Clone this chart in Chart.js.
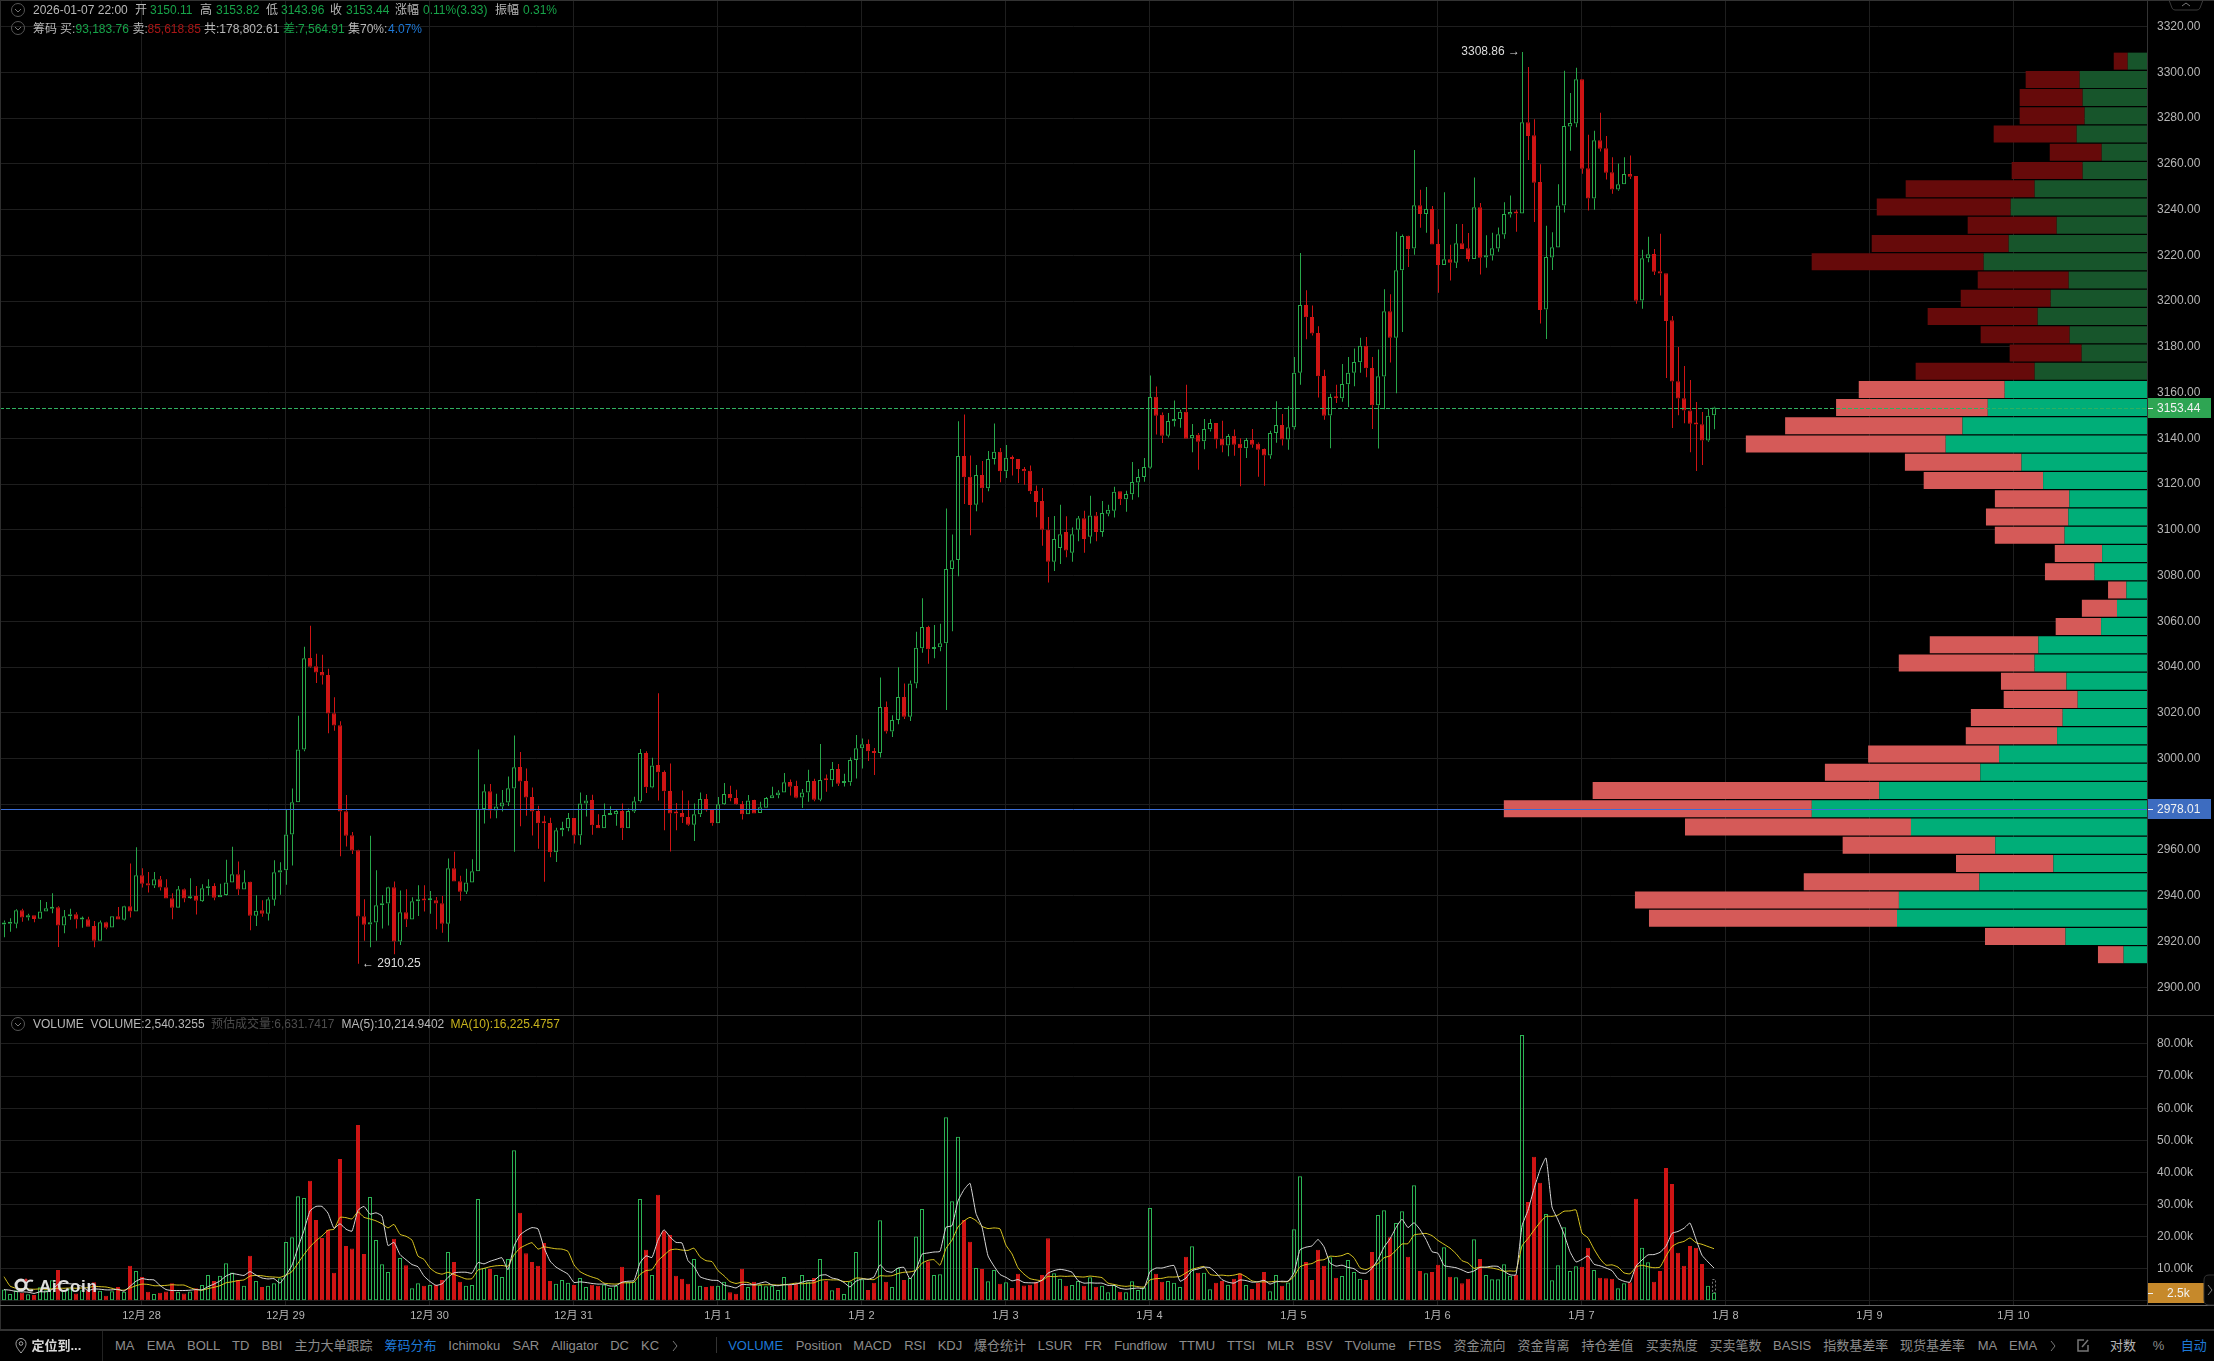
<!DOCTYPE html>
<html>
<head>
<meta charset="utf-8">
<title>ETH 1H</title>
<script src="https://cdn.jsdelivr.net/npm/chart.js@4"></script>
<style>
  html, body { margin: 0; padding: 0; background: #000; }
  body { width: 2214px; height: 1361px; position: relative; overflow: hidden; font-family: "Liberation Sans", "Noto Sans CJK SC", sans-serif; }
  canvas { position: absolute; left: 0; }
  #priceChart { top: 0; }
  #volumeChart { top: 1015px; }
  .t { position: absolute; white-space: nowrap; line-height: 16px; font-size: 12px; color: #b9b9b9; }
  .bar { font-size: 13px; color: #8c8c8c; }
  .line { position: absolute; }
  svg { position: absolute; }
</style>
</head>
<body>
<canvas id="priceChart" width="2214" height="1015"></canvas>
<canvas id="volumeChart" width="2214" height="315"></canvas>
<script>
// 1H candles, 12-27 01:00 up to 01-07 22:00
const opens = [
  2927.4,2927.8,2927.8,2933.7,2930.5,2931.5,2930.0,2933.1,2934.3,2935.0,
  2927.0,2931.1,2931.9,2929.6,2929.7,2926.8,2920.4,2928.4,2926.1,2931.1,
  2929.5,2935.4,2933.1,2949.0,2945.5,2944.5,2947.2,2943.7,2938.9,2934.8,
  2942.9,2938.9,2939.9,2937.6,2943.3,2944.3,2939.4,2940.4,2945.8,2949.4,
  2942.7,2946.1,2931.3,2933.7,2932.2,2938.3,2950.2,2951.2,2966.8,2980.9,
  3004.0,3043.9,3040.4,3037.8,3036.5,3019.8,3014.6,2977.0,2966.5,2959.9,
  2931.1,2927.4,2928.3,2935.9,2936.6,2943.7,2920.0,2932.8,2929.6,2937.6,
  2938.5,2938.1,2938.1,2936.7,2927.8,2952.0,2946.4,2941.8,2945.8,2950.7,
  2977.9,2985.7,2977.3,2979.0,2980.8,2986.9,2996.3,2990.2,2983.2,2977.1,
  2972.2,2971.8,2959.0,2968.6,2969.5,2974.0,2966.4,2980.4,2981.9,2970.9,
  2969.5,2975.3,2975.7,2977.1,2969.5,2976.9,2981.3,3002.4,2987.3,2997.2,
  2994.1,2985.8,2976.6,2976.2,2974.4,2971.1,2975.6,2982.3,2977.5,2971.7,
  2980.0,2984.5,2982.7,2980.1,2975.6,2981.9,2976.2,2978.5,2982.6,2983.9,
  2985.2,2989.7,2988.0,2983.0,2985.2,2990.2,2982.0,2991.1,2990.5,2995.4,
  2989.3,2989.6,2999.4,3004.5,3006.4,3003.3,3002.4,3022.5,3011.8,3016.9,
  3026.9,3018.3,3032.8,3048.2,3057.5,3047.9,3048.6,3050.4,3082.9,3086.8,
  3132.3,3123.2,3110.9,3124.0,3118.2,3131.0,3134.1,3125.6,3131.6,3131.0,
  3126.6,3125.8,3117.0,3112.6,3100.0,3086.0,3092.0,3099.0,3090.0,3100.0,
  3105.1,3097.0,3106.2,3099.0,3107.0,3108.3,3116.8,3113.3,3115.5,3120.7,
  3123.1,3127.1,3158.2,3150.3,3141.1,3147.4,3148.4,3151.6,3140.0,3141.6,
  3138.7,3143.9,3146.7,3139.8,3136.9,3141.1,3137.6,3135.6,3139.2,3137.6,
  3135.3,3132.5,3142.3,3145.8,3139.5,3144.8,3168.6,3198.3,3193.0,3186.0,
  3167.2,3150.0,3158.1,3157.5,3163.6,3168.6,3173.2,3180.4,3170.7,3154.4,
  3167.0,3195.5,3184.0,3213.5,3228.5,3223.0,3241.9,3238.1,3240.2,3224.9,
  3215.8,3218.3,3216.7,3225.3,3223.1,3218.4,3241.0,3219.0,3219.9,3223.0,
  3229.1,3237.8,3238.9,3238.3,3278.2,3272.5,3252.0,3196.3,3219.0,3223.4,
  3241.8,3276.3,3277.6,3297.0,3258.1,3244.8,3270.3,3266.8,3256.3,3248.8,
  3251.1,3255.5,3254.7,3200.2,3218.7,3220.6,3213.0,3212.2,3191.6,3164.9,
  3157.5,3152.2,3146.7,3146.1,3139.0,3150.11
];
const highs = [
  2929.2,2930.2,2934.1,2934.3,2932.1,2931.5,2938.2,2937.3,2941.1,2935.4,
  2933.8,2934.3,2932.8,2930.9,2930.8,2929.0,2929.2,2928.6,2931.1,2935.1,
  2935.6,2954.1,2961.2,2952.0,2950.4,2950.4,2948.7,2947.2,2941.1,2944.3,
  2943.2,2947.7,2944.3,2945.1,2947.2,2945.5,2945.3,2955.8,2961.4,2955.0,
  2951.2,2946.2,2940.2,2938.1,2939.4,2955.5,2954.7,2977.9,2986.9,3018.7,
  3048.9,3058.0,3045.8,3045.4,3039.2,3026.8,3016.3,2984.1,2967.9,2960.1,
  2938.5,2966.2,2951.2,2940.4,2944.0,2946.2,2942.3,2942.9,2939.4,2944.6,
  2944.6,2942.1,2939.5,2939.9,2956.3,2959.3,2948.8,2951.8,2956.0,3004.0,
  2988.8,2988.9,2984.6,2986.3,2992.1,3010.1,3002.9,2995.6,2987.3,2979.4,
  2975.0,2974.1,2969.8,2972.4,2976.2,2974.0,2985.2,2984.1,2984.2,2975.7,
  2980.3,2979.1,2977.6,2980.3,2978.2,2983.3,3004.2,3003.2,3000.4,3028.5,
  2994.8,2997.8,2980.6,2986.0,2981.7,2980.3,2985.2,2984.5,2977.6,2983.2,
  2989.3,2988.1,2986.4,2981.4,2984.1,2982.0,2981.1,2983.2,2987.7,2986.1,
  2993.7,2990.8,2990.3,2986.7,2995.1,2991.2,3006.4,2993.0,2998.5,2997.6,
  2993.4,3000.5,3010.3,3008.8,3008.3,3004.6,3035.4,3024.9,3018.9,3039.9,
  3032.8,3034.1,3055.4,3070.1,3058.1,3058.4,3058.9,3109.3,3097.9,3147.4,
  3150.4,3132.5,3128.3,3130.1,3134.4,3146.5,3135.8,3137.1,3132.5,3131.0,
  3127.5,3128.1,3119.4,3118.3,3105.6,3106.0,3111.0,3105.9,3101.0,3106.0,
  3108.3,3114.9,3107.8,3112.6,3111.0,3118.8,3116.8,3117.1,3129.6,3126.6,
  3131.4,3167.4,3162.6,3151.3,3151.1,3156.5,3152.5,3163.4,3146.2,3142.3,
  3148.4,3148.4,3146.7,3147.7,3141.9,3143.8,3140.0,3140.1,3144.1,3138.2,
  3135.5,3143.3,3156.2,3150.6,3154.0,3175.5,3221.0,3204.7,3198.0,3189.0,
  3170.0,3159.5,3163.4,3172.5,3175.5,3179.3,3183.9,3184.3,3175.5,3178.8,
  3205.2,3203.0,3230.3,3229.1,3228.6,3266.0,3248.6,3249.9,3241.6,3231.4,
  3247.6,3224.6,3233.7,3233.7,3229.7,3254.0,3242.9,3228.8,3229.8,3232.1,
  3243.2,3246.1,3239.9,3308.86,3302.3,3279.5,3259.8,3232.9,3230.1,3251.1,
  3300.7,3290.9,3302.0,3297.0,3272.7,3274.4,3282.3,3272.1,3262.9,3260.1,
  3262.9,3263.6,3254.7,3222.4,3228.1,3222.7,3229.4,3212.2,3193.5,3179.9,
  3171.6,3165.5,3155.9,3151.5,3153.0,3153.82
];
const lows = [
  2921.9,2924.3,2925.8,2928.6,2929.2,2928.4,2930.0,2933.1,2932.4,2917.6,
  2923.6,2929.5,2925.7,2926.0,2926.5,2917.5,2920.4,2925.4,2926.1,2929.6,
  2929.2,2930.5,2933.1,2943.6,2941.4,2943.4,2942.3,2938.8,2929.7,2934.8,
  2937.2,2938.6,2931.8,2937.3,2940.1,2938.1,2939.4,2940.1,2945.8,2940.4,
  2942.7,2924.9,2926.8,2930.8,2929.2,2935.6,2940.5,2944.8,2953.2,2980.9,
  3003.2,3039.7,3033.0,3032.4,3011.1,3012.1,2957.3,2961.5,2958.3,2910.25,
  2920.4,2917.5,2920.4,2925.7,2927.0,2914.4,2918.5,2926.4,2929.6,2931.2,
  2933.1,2932.2,2925.4,2923.9,2919.8,2946.2,2937.8,2940.8,2945.8,2950.7,
  2971.6,2973.8,2973.9,2976.8,2979.3,2959.3,2970.4,2975.0,2966.4,2960.6,
  2946.1,2956.9,2954.8,2966.0,2968.2,2962.9,2962.3,2974.7,2966.7,2969.5,
  2969.5,2975.3,2970.6,2964.4,2969.5,2976.2,2980.8,2984.9,2987.0,2981.7,
  2968.6,2959.4,2968.6,2971.8,2970.6,2963.9,2974.4,2976.8,2970.6,2971.7,
  2979.7,2981.3,2979.8,2973.4,2975.6,2976.0,2976.2,2978.5,2982.6,2982.6,
  2985.2,2983.8,2982.6,2978.4,2981.1,2981.3,2981.3,2985.5,2987.7,2988.0,
  2987.8,2988.1,2991.3,2995.7,2998.9,2992.8,3000.5,3010.9,3009.4,3015.0,
  3017.3,3016.4,3030.7,3046.2,3041.4,3043.8,3046.9,3021.2,3055.6,3079.7,
  3111.3,3097.6,3108.1,3111.9,3116.9,3128.5,3120.8,3122.6,3123.7,3120.5,
  3119.7,3115.6,3105.5,3093.0,3077.0,3082.0,3085.0,3088.0,3086.0,3095.0,
  3090.0,3094.0,3095.0,3097.0,3105.9,3105.4,3110.8,3107.9,3113.1,3114.2,
  3121.0,3126.7,3141.7,3137.9,3140.3,3145.1,3144.6,3139.8,3133.9,3126.3,
  3135.2,3143.0,3135.5,3133.9,3132.1,3132.4,3119.0,3131.4,3135.9,3123.2,
  3119.3,3131.1,3138.1,3136.8,3135.0,3143.8,3163.4,3183.3,3184.9,3157.8,
  3148.1,3135.6,3155.4,3156.0,3153.7,3162.7,3168.6,3166.7,3144.1,3135.5,
  3152.7,3173.1,3159.7,3186.5,3214.9,3220.2,3232.0,3229.8,3224.7,3203.6,
  3215.8,3209.0,3214.4,3222.8,3217.3,3218.4,3211.6,3214.6,3217.7,3221.5,
  3227.2,3236.5,3230.3,3238.3,3261.7,3234.6,3190.2,3183.4,3213.6,3223.4,
  3238.7,3265.7,3276.0,3255.6,3239.6,3239.9,3265.4,3253.1,3246.9,3248.2,
  3251.1,3253.3,3198.8,3196.6,3217.0,3211.4,3202.4,3166.4,3144.5,3150.1,
  3146.6,3133.9,3125.7,3128.3,3138.5,3143.96
];
const closes = [
  2928.3,2928.6,2933.7,2930.5,2931.5,2929.9,2933.1,2934.6,2934.8,2927.0,
  2931.1,2931.9,2929.6,2929.7,2926.5,2920.4,2928.4,2926.0,2931.1,2929.6,
  2935.4,2933.1,2949.0,2945.3,2944.5,2947.2,2943.6,2938.8,2934.8,2942.9,
  2938.8,2939.8,2937.8,2943.3,2944.2,2939.2,2940.5,2945.8,2949.4,2942.7,
  2945.9,2931.3,2933.5,2932.2,2938.5,2950.3,2951.2,2966.8,2980.9,3004.0,
  3043.8,3040.1,3037.6,3036.3,3019.7,3014.5,2976.8,2966.3,2959.8,2930.9,
  2927.3,2928.4,2935.9,2936.7,2943.7,2920.0,2932.8,2929.6,2937.6,2938.5,
  2937.9,2938.5,2936.6,2927.8,2952.0,2946.2,2941.8,2945.8,2950.7,2977.9,
  2985.7,2977.3,2979.0,2980.8,2987.0,2996.2,2990.0,2983.0,2976.9,2971.7,
  2971.7,2959.0,2968.7,2969.6,2974.0,2966.4,2980.4,2981.7,2970.8,2969.5,
  2975.3,2975.7,2977.1,2969.5,2977.1,2981.3,3002.4,2987.4,2997.0,2994.0,
  2985.7,2976.0,2976.0,2974.3,2971.1,2975.6,2982.3,2977.4,2971.7,2980.0,
  2984.5,2982.6,2980.0,2975.6,2981.7,2976.0,2978.7,2982.7,2983.9,2985.2,
  2989.6,2987.7,2982.9,2985.2,2990.2,2982.0,2990.6,2990.5,2995.4,2989.0,
  2989.6,2999.4,3004.5,3006.2,3003.2,3002.4,3022.5,3011.8,3016.9,3026.9,
  3018.3,3032.8,3048.4,3057.5,3047.8,3048.8,3050.4,3082.9,3086.7,3132.3,
  3123.0,3110.8,3124.0,3118.2,3131.0,3134.1,3125.6,3131.5,3131.0,3126.6,
  3125.6,3116.9,3112.1,3100.0,3086.0,3096.0,3098.0,3091.0,3098.0,3105.0,
  3096.0,3106.2,3099.0,3107.3,3108.8,3116.6,3113.3,3115.6,3120.9,3123.1,
  3127.4,3158.1,3149.9,3141.1,3147.6,3148.4,3151.6,3139.8,3141.4,3138.5,
  3144.1,3146.7,3139.5,3136.8,3141.0,3137.2,3135.6,3139.2,3137.2,3135.0,
  3132.5,3142.3,3145.8,3139.5,3144.8,3168.6,3198.3,3192.9,3185.8,3167.1,
  3149.9,3158.1,3157.5,3163.7,3168.6,3173.4,3180.4,3170.6,3154.4,3167.1,
  3195.5,3184.0,3213.5,3228.4,3222.8,3241.9,3238.1,3240.2,3224.7,3215.8,
  3218.3,3216.7,3225.3,3222.8,3218.4,3241.0,3218.9,3220.0,3223.1,3229.2,
  3238.0,3238.9,3238.3,3278.2,3272.2,3251.7,3196.1,3219.2,3223.5,3241.8,
  3276.5,3277.8,3297.0,3257.8,3244.8,3270.3,3266.6,3256.1,3248.8,3251.1,
  3255.5,3254.3,3200.1,3218.7,3220.5,3212.8,3212.0,3191.3,3164.8,3157.4,
  3152.1,3146.4,3146.0,3139.0,3149.9,3153.44
];
// volume in thousands
const volumes = [
  3.5,2.1,3.3,2.5,2.0,1.8,4.2,3.3,6.4,9.6,
  3.3,3.8,2.3,3.3,3.3,5.8,3.1,1.6,3.0,4.3,
  2.8,10.9,9.3,7.4,2.8,2.1,2.5,2.9,5.5,2.8,
  2.3,2.9,3.9,4.9,8.0,6.2,7.8,11.7,8.8,6.5,
  4.7,14.0,6.2,4.3,4.7,5.5,7.0,18.3,19.8,32.6,
  32.0,37.4,25.2,19.6,22.1,8.7,44.2,17.1,16.3,54.8,
  14.6,32.3,18.9,11.4,9.0,19.3,13.3,11.1,3.9,5.5,
  4.7,4.9,5.0,6.5,15.2,12.1,5.9,4.7,4.9,31.7,
  10.2,9.9,8.0,7.4,13.0,46.9,27.4,14.8,12.1,10.9,
  18.0,6.2,5.3,6.5,5.6,4.9,7.1,4.3,5.0,4.7,
  5.1,4.0,4.7,10.6,6.0,6.0,31.7,15.9,8.0,33.0,
  21.9,20.5,7.8,6.9,5.3,13.0,4.7,4.3,4.7,4.7,
  5.9,2.7,2.2,10.0,4.3,5.9,4.9,4.5,4.7,3.4,
  7.4,5.0,5.3,8.0,6.0,7.1,13.0,6.3,3.3,4.0,
  2.1,6.0,15.2,6.7,3.4,5.6,25.1,5.9,4.3,10.2,
  6.5,7.1,20.0,28.6,12.3,8.0,8.3,57.2,31.0,51.1,
  25.2,18.4,10.2,9.9,6.1,9.6,5.3,5.8,4.0,8.4,
  4.8,5.0,5.9,8.0,19.5,8.6,6.9,4.7,4.9,6.2,
  4.7,7.3,4.4,4.7,2.7,4.9,2.8,2.7,6.1,3.4,
  4.2,28.9,8.4,5.9,6.2,5.6,4.3,13.7,17.0,8.7,
  8.7,3.6,5.6,6.2,5.0,6.9,8.6,4.9,3.7,5.6,
  9.0,3.0,8.0,4.7,5.7,22.3,38.8,12.1,6.5,15.9,
  10.9,13.6,7.2,7.7,12.7,9.0,6.9,6.5,15.2,26.7,
  28.2,19.8,24.2,27.9,13.7,36.0,9.3,8.6,9.0,11.2,
  16.7,7.5,7.3,5.5,6.9,19.2,13.0,8.0,6.7,6.7,
  11.4,7.8,8.0,82.8,30.8,44.9,36.8,27.0,6.4,11.1,
  22.9,9.3,10.8,10.6,16.5,9.6,7.2,7.0,6.9,3.9,
  5.5,5.8,31.8,16.5,12.0,5.9,9.3,41.4,36.4,15.0,
  10.9,17.1,16.5,11.5,4.7,2.54
];
const ma5 = [
  3.5,3.3,2.9,2.8,2.7,2.3,2.8,2.8,3.5,5.1,
  5.4,5.3,5.1,4.5,3.2,3.7,3.6,3.4,3.4,3.6,
  3.0,4.5,6.1,6.9,6.6,6.5,4.8,3.5,3.2,3.2,
  3.2,3.3,3.5,3.4,4.4,5.2,6.2,7.7,8.5,8.2,
  7.9,9.1,8.0,7.1,6.8,6.9,5.5,8.0,11.1,16.6,
  21.9,28.0,29.4,29.4,27.3,22.6,24.0,22.3,21.7,28.2,
  29.4,27.0,27.4,26.4,17.2,18.2,14.4,12.8,11.3,10.6,
  7.7,6.0,4.8,5.3,7.3,8.7,8.9,8.9,8.6,11.9,
  11.5,12.3,12.9,13.4,9.7,17.0,20.5,21.9,22.8,22.4,
  16.6,12.4,10.5,9.4,8.3,5.7,5.9,5.7,5.4,5.2,
  5.2,4.6,4.7,5.8,6.1,6.3,11.8,14.0,13.5,18.9,
  22.1,19.9,18.2,18.0,12.5,10.7,7.5,6.8,6.4,6.3,
  4.9,4.5,4.0,5.1,5.0,5.0,5.5,5.9,4.9,4.7,
  5.0,5.0,5.2,5.8,6.3,6.3,7.9,8.1,7.1,6.7,
  5.7,4.3,6.1,6.8,6.7,7.4,11.2,9.3,8.9,10.2,
  10.4,6.8,9.6,14.5,14.9,15.2,15.4,22.9,23.4,31.1,
  34.6,36.6,27.2,23.0,14.0,10.8,8.2,7.3,6.2,6.6,
  5.7,5.6,5.6,6.4,8.6,9.4,9.8,9.5,8.9,6.3,
  5.5,5.6,5.5,5.5,4.8,4.8,3.9,3.6,3.8,4.0,
  3.8,9.1,10.2,10.2,10.7,11.0,6.1,7.1,9.4,9.9,
  10.5,10.3,8.7,6.6,5.8,5.5,6.5,6.3,5.8,5.9,
  6.4,5.2,5.9,6.1,6.1,8.7,15.9,16.7,17.1,19.1,
  16.8,11.8,10.8,11.1,10.4,10.0,8.7,8.6,10.1,12.9,
  16.7,19.3,22.8,25.4,22.8,24.3,22.2,19.1,15.3,14.8,
  11.0,10.6,10.3,9.6,8.8,9.3,10.4,10.5,10.8,10.7,
  9.2,8.1,8.1,23.3,28.2,34.9,40.7,44.5,29.2,25.2,
  20.8,15.3,12.1,12.9,14.0,11.4,10.9,10.2,9.4,6.9,
  6.1,5.8,10.8,12.7,14.3,14.4,15.1,17.0,21.0,21.6,
  22.6,24.2,19.2,14.2,12.1,10.21
];
const ma10 = [
  7.5,4.6,3.9,3.8,3.7,3.6,3.7,3.6,3.7,3.9,
  3.9,4.0,3.9,4.0,4.1,4.5,4.4,4.3,3.9,3.4,
  3.3,4.0,4.7,5.2,5.1,4.7,4.7,4.8,5.0,4.9,
  4.9,4.1,3.5,3.3,3.8,4.2,4.7,5.6,5.9,6.3,
  6.5,7.7,7.9,7.8,7.5,7.4,7.3,8.0,9.1,11.7,
  14.4,16.8,18.7,20.2,22.0,22.3,26.0,25.9,25.5,27.7,
  26.0,25.5,24.9,24.0,22.7,23.8,20.7,20.1,18.9,13.9,
  12.9,10.2,8.8,8.3,8.9,8.2,7.5,6.8,6.9,9.6,
  10.1,10.6,10.9,11.0,10.8,14.3,16.4,17.4,18.1,16.1,
  16.8,16.5,16.2,16.1,15.4,11.2,9.1,8.1,7.4,6.8,
  5.5,5.3,5.2,5.6,5.6,5.8,8.2,9.4,9.7,12.5,
  14.2,15.8,16.1,15.8,15.7,16.4,13.7,12.5,12.2,9.4,
  7.8,6.0,5.4,5.8,5.7,4.9,5.0,5.0,5.0,4.9,
  5.0,5.2,5.5,5.3,5.5,5.6,6.4,6.6,6.5,6.5,
  6.0,6.1,7.1,7.0,6.7,6.6,7.8,7.7,7.8,8.5,
  8.9,9.0,9.5,11.7,12.6,12.8,11.1,16.3,18.9,23.0,
  24.9,26.0,25.0,23.2,22.5,22.7,22.4,17.3,14.6,10.3,
  8.3,6.9,6.5,6.3,7.6,7.5,7.7,7.6,7.7,7.5,
  7.4,7.7,7.5,7.2,5.5,5.1,4.7,4.5,4.7,4.4,
  4.3,6.5,6.9,7.0,7.4,7.4,7.6,8.7,9.8,10.3,
  10.7,8.2,7.9,8.0,7.8,8.0,8.4,7.5,6.2,5.9,
  5.9,5.9,6.1,5.9,6.0,7.6,10.6,11.3,11.6,12.6,
  12.8,13.9,13.8,14.1,14.8,13.4,10.3,9.7,10.6,11.6,
  13.4,14.0,15.7,17.7,17.8,20.5,20.8,21.0,20.3,18.8,
  17.6,16.4,14.7,12.5,11.8,10.1,10.5,10.4,10.2,9.8,
  9.2,9.3,9.3,17.1,19.4,22.0,24.4,26.3,26.3,26.7,
  27.9,28.0,28.3,21.1,19.6,16.1,13.1,11.1,11.2,10.5,
  8.7,8.4,10.5,11.1,10.6,10.3,10.5,13.9,16.9,18.0,
  18.5,19.6,18.1,17.6,16.9,16.23
];
const estimatedVolume = 6.63;

// chip distribution rows, top to bottom
const chipPrices = [
  3304.87,3296.90,3288.93,3280.96,3272.98,3265.01,3257.04,3249.07,3241.10,3233.13,
  3225.15,3217.18,3209.21,3201.24,3193.27,3185.30,3177.32,3169.35,3161.38,3153.41,
  3145.44,3137.47,3129.49,3121.52,3113.55,3105.58,3097.61,3089.64,3081.66,3073.69,
  3065.72,3057.75,3049.78,3041.81,3033.83,3025.86,3017.89,3009.92,3001.95,2993.98,
  2986.00,2978.03,2970.06,2962.09,2954.12,2946.15,2938.17,2930.20,2922.23,2914.26
];
const chipBuy = [
  302,1054,1007,976,1101,709,1007,1759,2134,1414,
  2166,2557,1226,1508,1712,1211,1023,1759,2228,2493,
  2889,3152,1965,1627,1217,1232,1290,703,821,323,
  470,719,1701,1760,1261,1085,1320,1408,2316,2610,
  4194,5249,3696,2376,1466,2625,3885,3915,1276,366
];
const chipSell = [
  219,846,987,1018,1300,814,1112,2020,2098,1394,
  2145,2694,1425,1409,1723,1394,1128,1864,2286,2376,
  2778,3130,1826,1870,1165,1290,1093,741,777,287,
  550,711,1701,2127,1026,1159,1438,1430,2051,2434,
  4487,4823,3539,2390,1525,2750,4134,3884,1261,402
];

const priceTicks = [2900,2920,2940,2960,2980,3000,3020,3040,3060,3080,3100,3120,3140,3160,3180,3200,3220,3240,3260,3280,3300,3320];
const volumeTicks = [0,10,20,30,40,50,60,70,80];
// hour index of each midnight, with its label
const dayHours = [23,47,71,95,119,143,167,191,215,239,263,287,311,335];
const dayLabels = ['12月 28','12月 29','12月 30','12月 31','1月 1','1月 2','1月 3','1月 4','1月 5','1月 6','1月 7','1月 8','1月 9','1月 10'];

const lastPrice = 3153.44, chipPeak = 2978.01, lastVolumeLabel = '2.5k';
const highMark = {i: 253, price: 3308.86}, lowMark = {i: 59, price: 2910.25};

const RED = '#cf1414', GREEN = '#27a84a', VOL_GREEN = '#2cb455', GRID = '#1e1e1e';
const plotWidth = 2147, slot = 6;
const xMin = -4 / slot, xMax = xMin + plotWidth / slot;

const up = i => closes[i] >= opens[i];
const candleColor = c => up(c.dataIndex) ? GREEN : RED;
const idx = opens.map((_, i) => i);

function barStyle(extra) {
  return Object.assign({type: 'bar', grouped: false, barPercentage: 1, categoryPercentage: 1, inflateAmount: 0, borderSkipped: false}, extra);
}
// keep the plot edge flush with the canvas, chart.js adds room for half a label otherwise
function fitY(s) { s.width = 67; s.paddingTop = 0; s.paddingBottom = 0; }
function dayTickList(s) { s.ticks = dayHours.map(h => ({value: h - 0.5 / slot})); }

// price pane lines, tags and extreme labels
const priceOverlay = {
  id: 'priceOverlay',
  afterDraw(chart) {
    const {ctx, scales} = chart, y = scales.y, x = scales.x;
    ctx.save();
    ctx.lineWidth = 1;
    const yLast = Math.round(y.getPixelForValue(lastPrice)) + 0.5;
    ctx.strokeStyle = '#2fb060'; ctx.setLineDash([4, 2]);
    ctx.beginPath(); ctx.moveTo(0, yLast); ctx.lineTo(plotWidth, yLast); ctx.stroke();
    ctx.setLineDash([]);
    const yPeak = Math.round(y.getPixelForValue(chipPeak)) + 0.5;
    ctx.strokeStyle = '#3b6fd8';
    ctx.beginPath(); ctx.moveTo(0, yPeak); ctx.lineTo(plotWidth, yPeak); ctx.stroke();

    ctx.font = '12px "Liberation Sans"';
    ctx.textBaseline = 'middle';
    [[lastPrice, '#2ea553'], [chipPeak, '#3d6cc0']].forEach(([v, col]) => {
      const py = y.getPixelForValue(v);
      ctx.fillStyle = col;
      ctx.fillRect(plotWidth, Math.round(py) - 10, 64, 20);
      ctx.fillStyle = '#f2f2f2';
      ctx.fillRect(plotWidth, Math.round(py), 6, 1);
      ctx.textAlign = 'left';
      ctx.fillText(v.toFixed(2), plotWidth + 10, py + 1);
    });

    ctx.fillStyle = '#dcdcdc';
    ctx.textAlign = 'right';
    ctx.fillText(highMark.price.toFixed(2) + ' →', x.getPixelForValue(highMark.i) - 2, y.getPixelForValue(highMark.price));
    ctx.textAlign = 'left';
    ctx.fillText('← ' + lowMark.price.toFixed(2), x.getPixelForValue(lowMark.i) + 4, y.getPixelForValue(lowMark.price));
    ctx.restore();
  }
};

// dashed estimate bar and the current volume tag
const volumeOverlay = {
  id: 'volumeOverlay',
  afterDraw(chart) {
    const {ctx, scales} = chart, y = scales.y, x = scales.x;
    const last = volumes.length - 1;
    ctx.save();
    ctx.strokeStyle = '#777';
    ctx.setLineDash([2, 2]);
    const left = x.getPixelForValue(last) - 1.5;
    ctx.strokeRect(left, y.getPixelForValue(estimatedVolume), 3, y.getPixelForValue(volumes[last]) - y.getPixelForValue(estimatedVolume));
    ctx.setLineDash([]);
    const py = y.getPixelForValue(volumes[last]);
    ctx.fillStyle = '#c6892b';
    ctx.fillRect(plotWidth, Math.round(py) - 10, 57, 20);
    ctx.fillStyle = '#f2f2f2';
    ctx.fillRect(plotWidth, Math.round(py), 6, 1);
    ctx.font = '12px "Liberation Sans"';
    ctx.textBaseline = 'middle';
    ctx.textAlign = 'left';
    ctx.fillText(lastVolumeLabel, plotWidth + 20, py + 1);
    ctx.restore();
  }
};

const baseOpts = {
  responsive: false,
  animation: false,
  events: [],
  layout: {padding: 0},
  plugins: {legend: {display: false}, tooltip: {enabled: false}}
};
// data axes carry no ticks: bar widths are limited by the gap to the nearest tick
function dataAxis(axis, extra) {
  return Object.assign({axis, type: 'linear', display: false, offset: false, grid: {offset: false}, ticks: {display: false},
    afterBuildTicks: s => { s.ticks = []; }}, extra);
}

new Chart(document.getElementById('priceChart'), {
  type: 'bar',
  data: {
    datasets: [
      barStyle({label: 'upper wick', xAxisID: 'xWick', yAxisID: 'y', maxBarThickness: 1, order: 3,
        data: idx.map(i => ({x: i, y: [Math.max(opens[i], closes[i]), highs[i]]})), backgroundColor: candleColor}),
      barStyle({label: 'lower wick', xAxisID: 'xWick', yAxisID: 'y', maxBarThickness: 1, order: 3,
        data: idx.map(i => ({x: i, y: [lows[i], Math.min(opens[i], closes[i])]})), backgroundColor: candleColor}),
      barStyle({label: 'candle', xAxisID: 'x', yAxisID: 'y', maxBarThickness: 4, order: 2, borderWidth: 1, minBarLength: 2,
        data: idx.map(i => ({x: i, y: [opens[i], closes[i]]})),
        borderColor: candleColor,
        backgroundColor: c => up(c.dataIndex) ? 'rgba(0,0,0,0)' : RED}),
      barStyle({label: 'buy chips', indexAxis: 'y', xAxisID: 'xChip', yAxisID: 'yChip', stack: 'chips', maxBarThickness: 17, order: 1,
        data: chipPrices.map((p, i) => ({x: chipBuy[i], y: p})),
        backgroundColor: c => chipPrices[c.dataIndex] > 3165 ? '#17552b' : '#00ae78'}),
      barStyle({label: 'sell chips', indexAxis: 'y', xAxisID: 'xChip', yAxisID: 'yChip', stack: 'chips', maxBarThickness: 17, order: 1,
        data: chipPrices.map((p, i) => ({x: chipSell[i], y: p})),
        backgroundColor: c => chipPrices[c.dataIndex] > 3165 ? '#660a0a' : '#d55a58'})
    ]
  },
  options: Object.assign({}, baseOpts, {
    scales: {
      x: dataAxis('x', {min: xMin, max: xMax}),
      xWick: dataAxis('x', {min: xMin - 0.5 / slot, max: xMax - 0.5 / slot}),
      xChip: dataAxis('x', {min: 0, max: plotWidth * 15.66, reverse: true, stacked: true}),
      yChip: dataAxis('y', {min: 2887.89, max: 3331.6}),
      xGrid: {axis: 'x', position: 'bottom', type: 'linear', min: xMin, max: xMax, offset: false,
        grid: {color: GRID, offset: false, drawTicks: false}, border: {display: false},
        ticks: {display: false}, afterBuildTicks: dayTickList, afterFit: s => { s.height = 0; }},
      y: {type: 'linear', position: 'right', min: 2887.89, max: 3331.6, offset: false,
        grid: {color: GRID, offset: false, drawTicks: false}, border: {display: false},
        afterBuildTicks: s => { s.ticks = priceTicks.map(value => ({value})); },
        afterFit: fitY,
        ticks: {color: '#b5b5b5', padding: 10, font: {family: 'Liberation Sans', size: 12}, callback: v => v.toFixed(2)}}
    }
  }),
  plugins: [priceOverlay]
});

new Chart(document.getElementById('volumeChart'), {
  type: 'bar',
  data: {
    datasets: [
      {type: 'line', label: 'MA(5)', order: 1, data: ma5.map((v, i) => ({x: i, y: v})), borderColor: '#d6d6d6', borderWidth: 1, pointRadius: 0, tension: 0.15},
      {type: 'line', label: 'MA(10)', order: 1, data: ma10.map((v, i) => ({x: i, y: v})), borderColor: '#d8c420', borderWidth: 1, pointRadius: 0, tension: 0.15},
      barStyle({label: 'VOLUME', order: 2, maxBarThickness: 4, borderWidth: 1,
        data: volumes.map((v, i) => ({x: i, y: v})),
        borderColor: c => up(c.dataIndex) ? VOL_GREEN : RED,
        backgroundColor: c => up(c.dataIndex) ? 'rgba(0,0,0,0)' : RED})
    ]
  },
  options: Object.assign({}, baseOpts, {
    scales: {
      x: dataAxis('x', {min: xMin, max: xMax}),
      xGrid: {axis: 'x', position: 'bottom', type: 'linear', min: xMin, max: xMax, offset: false,
        grid: {color: GRID, offset: false, drawTicks: false}, border: {display: false},
        afterBuildTicks: dayTickList, afterFit: s => { s.height = 25; s.paddingLeft = 0; s.paddingRight = 0; },
        ticks: {color: '#b5b5b5', padding: 4, autoSkip: false, maxRotation: 0, font: {family: 'Liberation Sans, Noto Sans CJK SC', size: 11},
          callback: (v, i) => dayLabels[i]}},
      y: {type: 'linear', position: 'right', min: -1.31, max: 89.03, offset: false,
        grid: {color: GRID, offset: false, drawTicks: false}, border: {display: false},
        afterBuildTicks: s => { s.ticks = volumeTicks.map(value => ({value})); },
        afterFit: fitY,
        ticks: {color: '#b5b5b5', padding: 10, font: {family: 'Liberation Sans', size: 12},
          callback: v => v === 0 ? '' : v.toFixed(2) + 'k'}}
    }
  }),
  plugins: [volumeOverlay]
});

// page text and thin frame lines around the canvases
const G = '#17a349', R2 = '#a81616', B = '#1e78d6', Y = '#c9b41c', D = '#4d4d4d';
function txt(x, y, s, col, cls) {
  const el = document.createElement('span');
  el.className = 't' + (cls ? ' ' + cls : '');
  el.style.left = x + 'px';
  el.style.top = (y - 8) + 'px';
  if (col) el.style.color = col;
  el.textContent = s;
  document.body.appendChild(el);
  return el;
}
function rule(x, y, w, h, col) {
  const el = document.createElement('div');
  el.className = 'line';
  el.style.cssText = `left:${x}px;top:${y}px;width:${w}px;height:${h}px;background:${col}`;
  document.body.appendChild(el);
}
function icon(x, y, w, h, body) {
  document.body.insertAdjacentHTML('beforeend', `<svg style="left:${x}px;top:${y}px" width="${w}" height="${h}" viewBox="0 0 ${w} ${h}" fill="none">${body}</svg>`);
}
const foldIcon = '<circle cx="8" cy="8" r="6.5" stroke="#555"/><path d="M5 7l3 3 3-3" stroke="#777"/>';

rule(0, 0, 2214, 1, '#333');
rule(0, 0, 1, 1330, '#2e2e2e');
rule(2147, 0, 1, 1305, '#333');
rule(0, 1015, 2214, 1, '#333');
rule(0, 1305, 2214, 1, '#666');
rule(0, 1329, 2214, 2, '#333');
rule(102, 1331, 1, 30, '#222');
rule(716, 1337, 1, 16, '#333');

icon(10, 2, 16, 16, foldIcon);
icon(10, 20, 16, 16, foldIcon);
icon(10, 1016, 16, 16, foldIcon);

[[33,'2026-01-07 22:00'],[135,'开'],[150,'3150.11',G],[200,'高'],[216,'3153.82',G],[266,'低'],[281,'3143.96',G],[330,'收'],[346,'3153.44',G],[395,'涨幅'],[423,'0.11%(3.33)',G],[495,'振幅'],[523,'0.31%',G]]
  .forEach(([x, s, c]) => txt(x, 10, s, c));
[[33,'筹码'],[60,'买:'],[75.5,'93,183.76',G],[132.5,'卖:'],[147.5,'85,618.85',R2],[204,'共:178,802.61'],[283,'差:',G],[298,'7,564.91',G],[348,'集70%:'],[388,'4.07%',B]]
  .forEach(([x, s, c]) => txt(x, 28.5, s, c));
[[33,'VOLUME'],[90.5,'VOLUME:2,540.3255'],[211,'预估成交量:6,631.7417',D],[341.5,'MA(5):10,214.9402'],[450.5,'MA(10):16,225.4757',Y]]
  .forEach(([x, s, c]) => txt(x, 1024, s, c));

// watermark
icon(13, 1277, 22, 16, '<circle cx="8" cy="8" r="5" stroke="#ddd" stroke-width="3"/><path d="M20 4a5 5 0 1 0 0 9" stroke="#ddd" stroke-width="2"/><circle cx="13" cy="3" r="1.5" fill="#c33"/>');
const wm = txt(39, 1285, 'AiCoin', '#dedede');
wm.style.font = 'bold 17px "Liberation Sans"';
wm.style.letterSpacing = '0.6px';

// toolbar
icon(14, 1337, 14, 18, '<path d="M7 16C3 11 2 9 2 6.5a5 5 0 0 1 10 0C12 9 11 11 7 16z" stroke="#aaa"/><circle cx="7" cy="6.5" r="1.8" stroke="#aaa"/>');
const loc = txt(31.5, 1346, '定位到...', '#d8d8d8', 'bar');
loc.style.fontWeight = 'bold';
[[115,'MA'],[146.8,'EMA'],[187,'BOLL'],[232,'TD'],[261.4,'BBI'],[294.5,'主力大单跟踪'],[384.6,'筹码分布',B],[448.3,'Ichimoku'],[512.5,'SAR'],[551.2,'Alligator'],[610.2,'DC'],[641,'KC'],
 [728.2,'VOLUME',B],[795.7,'Position'],[853.3,'MACD'],[904.2,'RSI'],[937.7,'KDJ'],[974,'爆仓统计'],[1037.8,'LSUR'],[1084.5,'FR'],[1114.2,'Fundflow'],[1179,'TTMU'],[1227,'TTSI'],[1267,'MLR'],[1306.3,'BSV'],[1344.5,'TVolume'],[1408.2,'FTBS'],[1453.5,'资金流向'],
 [1517.5,'资金背离'],[1581.6,'持仓差值'],[1645.7,'买卖热度'],[1709.4,'买卖笔数'],[1773,'BASIS'],[1823.2,'指数基差率'],[1900,'现货基差率'],[1977.7,'MA'],[2009,'EMA'],[2110,'对数','#b5b5b5'],[2152.8,'%'],[2180.8,'自动',B]]
  .forEach(([x, s, c]) => txt(x, 1346, s, c, 'bar'));
const chevron = '<path d="M1 1l4 5-4 5" stroke="#777"/>';
icon(672, 1340, 7, 12, chevron);
icon(2050, 1340, 7, 12, chevron);
icon(2076, 1338, 14, 15, '<path d="M8 2H2v11h10V7" stroke="#777" stroke-width="1.5"/><path d="M6 9l6-7" stroke="#777" stroke-width="1.5"/>');

// right side handles
icon(2168, 0, 36, 11, '<path d="M1 0l3 8q1 2 3 2h22q2 0 3-2l3-8" stroke="#3a3a3a"/><path d="M14 6l4-3 4 3" stroke="#777"/>');
icon(2203, 1274, 11, 32, '<path d="M11 1H6Q1 1 1 6v20q0 5 5 5h5" stroke="#333" fill="#050505"/><path d="M5 11l4 5-4 5" stroke="#777"/>');
</script>
</body>
</html>
